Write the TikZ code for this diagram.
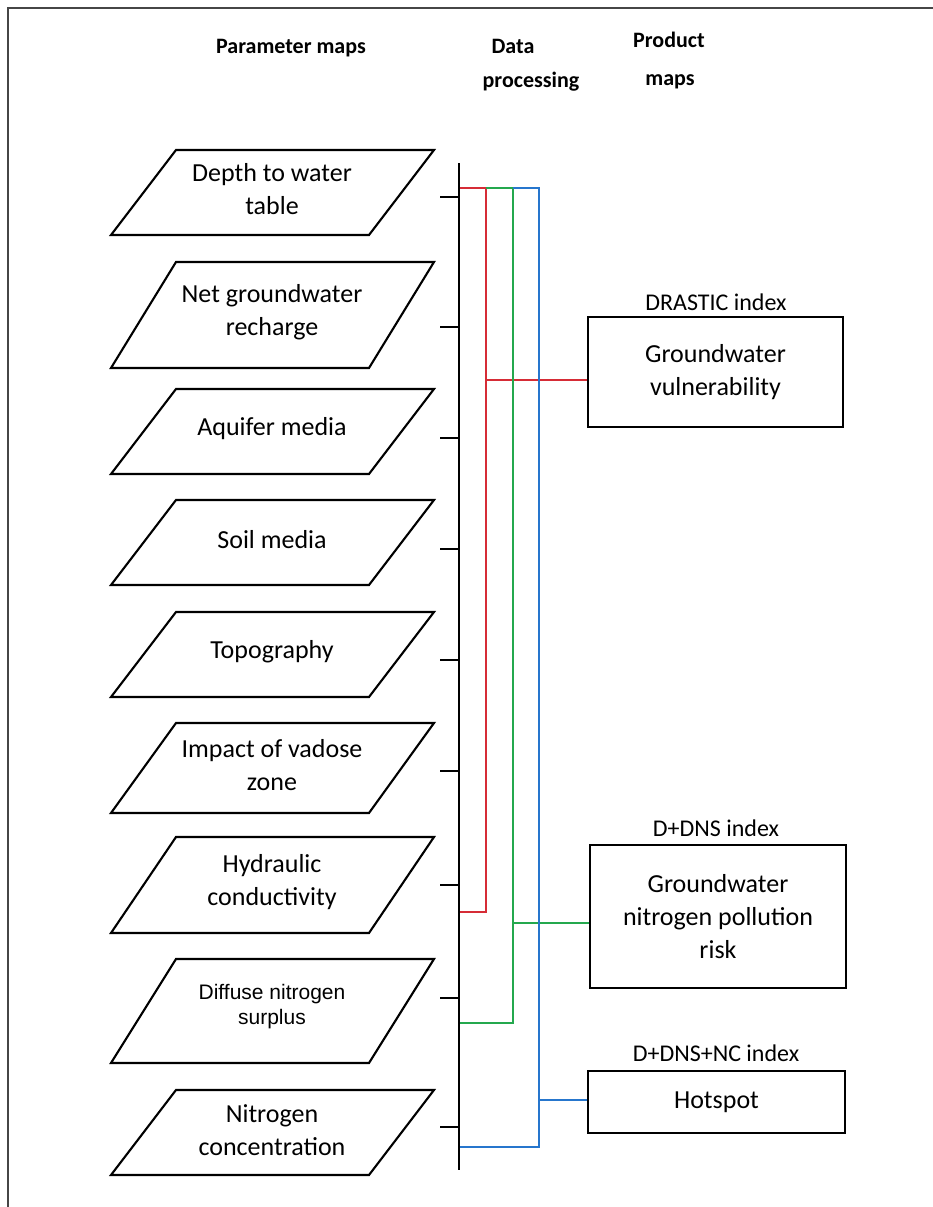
\documentclass[tikz,border=0pt]{standalone}
\usepackage{fontspec}
\setmainfont{Carlito}
\newfontfamily\arialf{Liberation Sans}
\definecolor{redl}{RGB}{214,44,54}
\definecolor{greenl}{RGB}{36,168,78}
\definecolor{bluel}{RGB}{38,118,205}
\definecolor{frame}{RGB}{70,70,70}
\begin{document}
\begin{tikzpicture}[x=1pt,y=-1pt,
  boxline/.style={draw=black, line width=2.1pt, line join=miter},
  ptext/.style={align=center, font=\fontsize{26}{33}\selectfont, inner sep=0pt},
  atext/.style={align=center, font=\arialf\fontsize{21}{25}\selectfont, inner sep=0pt},
  hdr/.style={anchor=base, font=\bfseries\fontsize{22}{26}\selectfont, inner sep=0pt},
  idx/.style={anchor=base, font=\fontsize{24}{28}\selectfont, inner sep=0pt},
  prod/.style={draw=black, line width=2.1pt, align=center, inner sep=0pt,
    font=\fontsize{26}{33}\selectfont},
  bus/.style={line width=2.1pt, black},
  tick/.style={line width=2.1pt, black},
  cl/.style={line width=2.1pt}]
\useasboundingbox (0,0) rectangle (933,1207);
% frame
\draw[frame, line width=2pt] (933,8) -- (8,8) -- (8,1207);
% headers
\node[hdr] (hpar) at (291,53) {Parameter maps};
\node[hdr] (hdata) at (513,53) {Data};
\node[hdr] (hproc) at (531,88) {processing};
\node[hdr] (hprod) at (669,48) {Product};
\node[hdr] (hmaps) at (670,85) {maps};
% parameter parallelograms
\newcommand{\pgram}[2]{\draw[boxline] (176,#1) -- (434,#1) -- (369,#2) -- (111,#2) -- cycle;}
\pgram{150}{235}
\pgram{262}{368}
\pgram{389}{474}
\pgram{500}{585}
\pgram{612}{697}
\pgram{723}{813}
\pgram{837}{933}
\pgram{959}{1063}
\pgram{1090}{1175}
\node[ptext] (p1) at (272,189) {Depth to water\\table};
\node[ptext] (p2) at (272,312) {Net groundwater\\recharge};
\node[ptext] (p3) at (272,429) {Aquifer media};
\node[ptext] (p4) at (272,540) {Soil media};
\node[ptext] (p5) at (272,652) {Topography};
\node[ptext] (p6) at (272,765) {Impact of vadose\\zone};
\node[ptext] (p7) at (272,882) {Hydraulic\\conductivity};
\node[atext] (p8) at (272,1007) {Diffuse nitrogen\\surplus};
\node[ptext] (p9) at (272,1130) {Nitrogen\\concentration};
% bus
\coordinate (bt) at (459,163);
\coordinate (bb) at (459,1170);
\foreach \y in {197,327,438,549,660,771,885,998,1127}{
  \draw[tick] (440,\y) -- (459,\y);
}
% product boxes
\node[prod, minimum width=255pt, minimum height=110pt] (drastic) at (715.5,372) {Groundwater\\vulnerability};
\node[prod, minimum width=256pt, minimum height=143pt] (ddns) at (718,916.5) {Groundwater\\nitrogen pollution\\risk};
\node[prod, minimum width=257pt, minimum height=62pt] (hot) at (716.5,1102) {Hotspot};
\node[idx] (ldrastic) at (716,310) {DRASTIC index};
\node[idx] (lddns) at (716,836) {D+DNS index};
\node[idx] (lhot) at (716,1061) {D+DNS+NC index};
% colored lines
\coordinate (rj) at (486,380);
\coordinate (gj) at (513,923);
\coordinate (bj) at (539,1100);
\draw[cl, redl] (459,188) -- (486,188) -- (486,912) -- (459,912);
\draw[cl, redl] (rj) -- (rj -| drastic.west);
\draw[cl, greenl] (486,188) -- (513,188) -- (513,1023) -- (459,1023);
\draw[cl, greenl] (gj) -- (gj -| ddns.west);
\draw[cl, bluel] (513,188) -- (539,188) -- (539,1147) -- (459,1147);
\draw[cl, bluel] (bj) -- (bj -| hot.west);
\draw[bus] (bt) -- (bb);
\end{tikzpicture}
\end{document}
